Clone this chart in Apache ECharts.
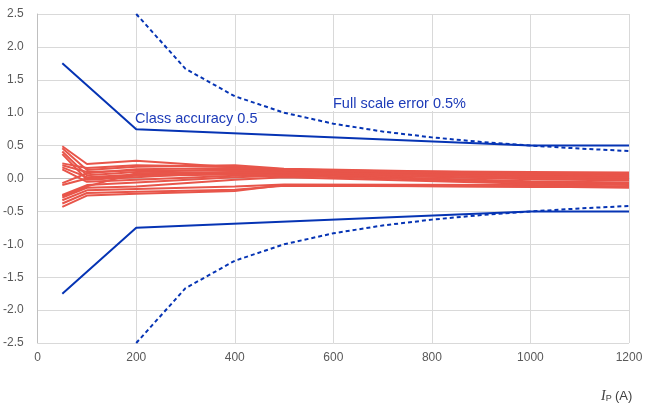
<!DOCTYPE html>
<html><head><meta charset="utf-8">
<script src="https://cdn.jsdelivr.net/npm/echarts@6/dist/echarts.min.js"></script>
<style>html,body{margin:0;padding:0;background:#fff}#c{width:646px;height:410px}</style>
</head><body><div id="c"></div>
<script>
// Blue limit curves
const classX = [50, 200, 1000, 1200];
const classUpper = [1.75, 0.75, 0.5, 0.5];
const classLower = [-1.75, -0.75, -0.5, -0.5];
const fsX = [200, 300, 400, 500, 600, 700, 800, 900, 1000, 1100, 1200];
const fsUpper = [2.5, 1.667, 1.25, 1.0, 0.833, 0.714, 0.625, 0.556, 0.5, 0.455, 0.417];
const fsLower = [-2.5, -1.667, -1.25, -1.0, -0.833, -0.714, -0.625, -0.556, -0.5, -0.455, -0.417];
// Measured ratio error curves (red)
const measX = [50, 100, 200, 400, 500, 1000, 1200];
const meas1 = [0.49, 0.22, 0.27, 0.17, 0.13, 0.05, 0.03];
const meas2 = [0.46, 0.13, 0.18, 0.20, 0.15, 0.08, 0.06];
const meas3 = [0.41, 0.05, 0.10, 0.14, 0.12, 0.10, 0.09];
const meas4 = [0.37, -0.02, 0.02, 0.10, 0.10, 0.02, 0.00];
const meas5 = [0.23, 0.16, 0.20, 0.18, 0.14, 0.07, 0.05];
const meas6 = [0.20, 0.10, 0.12, 0.12, 0.11, 0.04, 0.02];
const meas7 = [0.17, 0.02, 0.06, 0.08, 0.08, -0.01, -0.03];
const meas8 = [0.14, -0.05, -0.02, 0.04, 0.06, -0.04, -0.06];
const meas9 = [-0.07, 0.08, 0.14, 0.16, 0.13, 0.06, 0.08];
const meas10 = [-0.10, 0.00, 0.04, 0.06, 0.07, 0.00, -0.02];
const meas11 = [-0.25, -0.10, -0.06, 0.02, 0.04, -0.06, -0.08];
const meas12 = [-0.29, -0.14, -0.12, -0.02, 0.02, -0.08, -0.10];
const meas13 = [-0.33, -0.18, -0.16, -0.12, -0.09, -0.10, -0.12];
const meas14 = [-0.38, -0.22, -0.20, -0.17, -0.11, -0.12, -0.14];
const meas15 = [-0.43, -0.26, -0.23, -0.19, -0.10, -0.13, -0.13];
const meas16 = [-0.27, -0.12, 0.08, 0.10, 0.09, 0.03, 0.01];
const measAll = [meas1, meas2, meas3, meas4, meas5, meas6, meas7, meas8, meas9, meas10, meas11, meas12, meas13, meas14, meas15, meas16];
// Axis ticks
const xMin = 0, xMax = 1200, xStep = 200;
const yMin = -2.5, yMax = 2.5, yStep = 0.5;
const labelClass = 'Class accuracy 0.5';
const labelFs = 'Full scale error 0.5%';

const zip = (xs, ys) => xs.map((x, i) => [x, ys[i]]);
const RED = '#E8554A', BLUE = '#0634B4';
const series = [];
measAll.forEach(m => series.push({type: 'line', data: zip(measX, m), symbol: 'none', lineStyle: {color: RED, width: 2}, z: 2}));
series.push({type: 'line', data: zip(classX, classUpper), symbol: 'none', lineStyle: {color: BLUE, width: 2}, z: 3});
series.push({type: 'line', data: zip(classX, classLower), symbol: 'none', lineStyle: {color: BLUE, width: 2}, z: 3});
series.push({type: 'line', data: zip(fsX, fsUpper), symbol: 'none', lineStyle: {color: BLUE, width: 2, type: [4, 3]}, z: 3});
series.push({type: 'line', data: zip(fsX, fsLower), symbol: 'none', lineStyle: {color: BLUE, width: 2, type: [4, 3]}, z: 3});

const chart = echarts.init(document.getElementById('c'), null, {renderer: 'canvas'});
chart.setOption({
  animation: false,
  grid: {left: 36, right: 17, top: 14, bottom: 67},
  xAxis: {
    type: 'value', min: xMin, max: xMax, interval: xStep,
    axisLine: {show: true, lineStyle: {color: '#BFBFBF', width: 1}},
    axisTick: {show: false},
    splitLine: {show: true, lineStyle: {color: '#D9D9D9', width: 1}},
    axisLabel: {color: '#595959', fontSize: 12, fontFamily: 'Liberation Sans, Arial', margin: 9,
      formatter: v => String(v)}
  },
  yAxis: {
    type: 'value', min: yMin, max: yMax, interval: yStep,
    axisLine: {show: true, lineStyle: {color: '#BFBFBF', width: 1}},
    axisTick: {show: false},
    splitLine: {show: true, lineStyle: {color: '#D9D9D9', width: 1}},
    axisLabel: {color: '#595959', fontSize: 12, fontFamily: 'Liberation Sans, Arial', margin: 14,
      formatter: v => v.toFixed(1)}
  },
  graphic: [
    {type: 'text', left: 135, top: 111, z: 10, style: {text: labelClass, fill: '#1D3BB8', fontSize: 14.5, fontFamily: 'Liberation Sans, Arial', backgroundColor: '#fff'}},
    {type: 'text', left: 333, top: 96, z: 10, style: {text: labelFs, fill: '#1D3BB8', fontSize: 14.5, fontFamily: 'Liberation Sans, Arial', backgroundColor: '#fff'}},
    {type: 'text', left: 601, top: 389, style: {
      text: '{i|I}{s|P} {n|(A)}',
      rich: {
        i: {fontFamily: 'Liberation Serif', fontStyle: 'italic', fontSize: 14, fill: '#404040'},
        s: {fontFamily: 'Liberation Sans', fontSize: 9, fill: '#404040', verticalAlign: 'bottom', padding: [6, 0, 0, 0]},
        n: {fontFamily: 'Liberation Sans', fontSize: 13, fill: '#404040'}
      }}}
  ],
  series: series
});
</script></body></html>
